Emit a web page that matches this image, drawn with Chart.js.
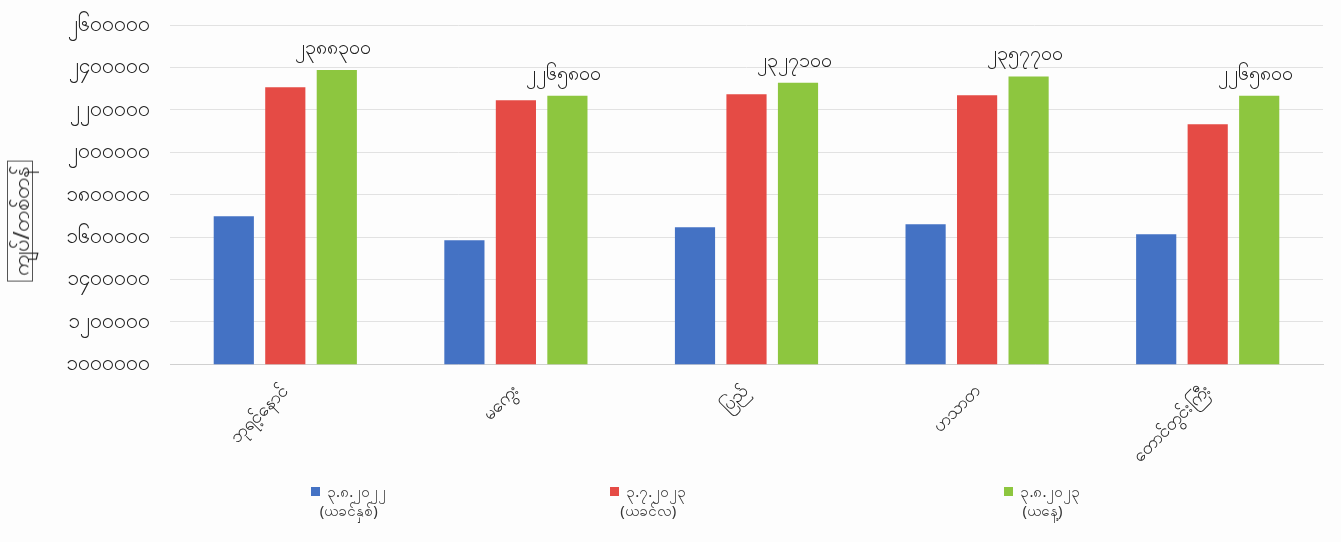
<!DOCTYPE html>
<html>
<head>
<meta charset="utf-8">
<script src="https://cdn.jsdelivr.net/npm/chart.js@4"></script>
<style>
  html,body{margin:0;padding:0;background:#fdfdfd;}
  #wrap{position:relative;width:1341px;height:542px;}
  canvas{display:block;}
  #yt{position:absolute;left:20px;top:221px;transform:translate(-50%,-50%) rotate(-90deg);
      border:1px solid #555;padding:0 5px;font:22px/24px "Noto Sans",sans-serif;color:#222;white-space:nowrap;background:#fdfdfd;}
  .lg{position:absolute;top:482px;font:15px "Noto Sans",sans-serif;color:#333;text-align:center;line-height:19px;}
  .lg .sw{display:inline-block;width:9px;height:9px;margin-right:7px;vertical-align:1px;}
</style>
</head>
<body>
<div id="wrap">
  <canvas id="c" width="1341" height="542"></canvas>
  <div id="yt">ကျပ်/တစ်တန်</div>
  <div id="legend"></div>
</div>
<script>
const categories = ["ဘုရင့်နောင်", "မကွေး", "ပြည်", "ဟသာတ", "တောင်တွင်းကြီး"];
const seriesNames = [["၃.၈.၂၀၂၂", "(ယခင်နှစ်)"], ["၃.၇.၂၀၂၃", "(ယခင်လ)"], ["၃.၈.၂၀၂၃", "(ယနေ့)"]];
const lastYear  = [1698000, 1585000, 1646000, 1660000, 1613000];
const lastMonth = [2306000, 2245000, 2274000, 2269000, 2132000];
const today     = [2388300, 2265800, 2327100, 2357700, 2265800];
const yTicks    = [1000000, 1200000, 1400000, 1600000, 1800000, 2000000, 2200000, 2400000, 2600000];
const colors    = ["#4472C4", "#E54B45", "#8DC63F"];

const MY = "၀၁၂၃၄၅၆၇၈၉";
function toMy(n){ return String(Math.round(n)).replace(/[0-9]/g, d => MY[+d]); }

const valueLabels = {
  id: 'valueLabels',
  afterDatasetsDraw(chart){
    const ctx = chart.ctx;
    const meta = chart.getDatasetMeta(2);
    ctx.save();
    ctx.font = '20px "Noto Sans", sans-serif';
    ctx.fillStyle = '#222';
    ctx.textAlign = 'center';
    ctx.textBaseline = 'bottom';
    meta.data.forEach((bar, i) => {
      ctx.fillText(toMy(today[i]), bar.x - 4, bar.y - 12);
    });
    ctx.restore();
  }
};

const datasets = [lastYear, lastMonth, today].map((d, i) => ({
  label: seriesNames[i].join(' '),
  data: d,
  backgroundColor: colors[i],
  categoryPercentage: 0.67,
  barPercentage: 0.78
}));

new Chart(document.getElementById('c'), {
  type: 'bar',
  data: { labels: categories, datasets },
  options: {
    responsive: false,
    animation: false,
    layout: { padding: { left: 46, right: 18, top: 25, bottom: 59 } },
    plugins: { legend: { display: false }, tooltip: { enabled: false } },
    scales: {
      x: {
        grid: { display: false, drawTicks: false },
        border: { color: '#d0d0d0' },
        ticks: { minRotation: 45, maxRotation: 45, padding: 16,
                 font: { size: 18, family: '"Noto Sans", sans-serif' }, color: '#222' }
      },
      y: {
        min: yTicks[0], max: yTicks[yTicks.length - 1],
        afterBuildTicks(axis){ axis.ticks = yTicks.map(v => ({ value: v })); },
        afterFit(axis){ axis.paddingTop = 0; },
        grid: { color: '#e2e2e2', drawTicks: false },
        border: { display: false },
        ticks: { padding: 20, callback: v => toMy(v),
                 font: { size: 21, family: '"Noto Sans", sans-serif' }, color: '#222' }
      }
    }
  },
  plugins: [valueLabels]
});

const lgPos = [0.232, 0.455, 0.749];
const lg = document.getElementById('legend');
seriesNames.forEach((s, i) => {
  const d = document.createElement('div');
  d.className = 'lg';
  d.style.left = (lgPos[i] * 1341) + 'px';
  d.innerHTML = '<span class="sw" style="background:' + colors[i] + '"></span>' + s[0] + '<br>' + s[1];
  lg.appendChild(d);
});
</script>
</body>
</html>
